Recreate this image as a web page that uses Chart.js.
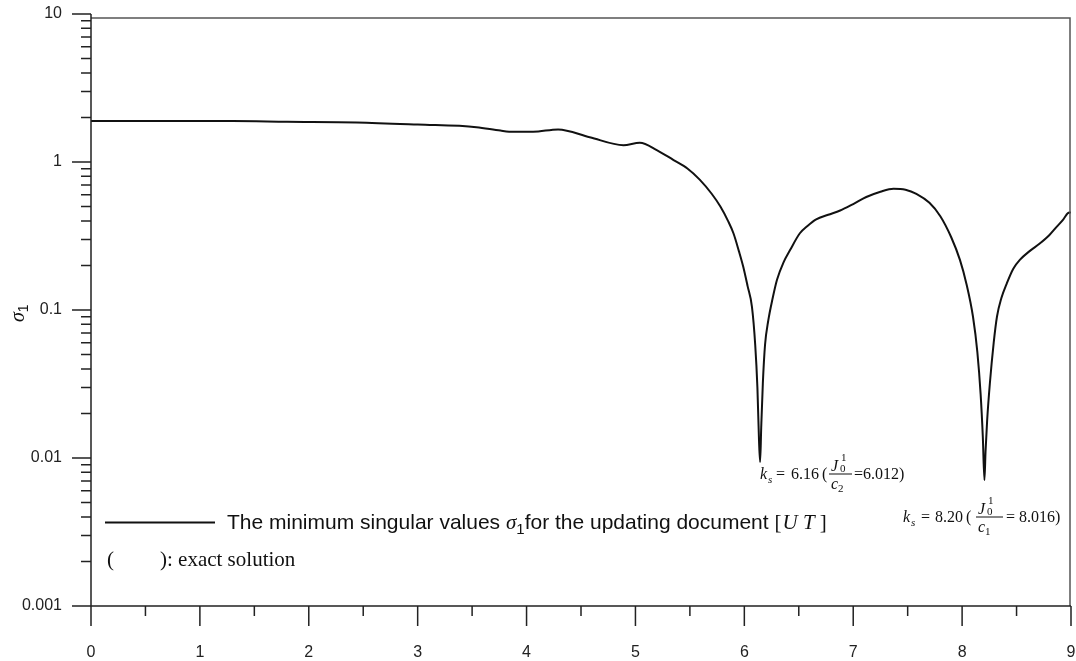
<!DOCTYPE html>
<html>
<head>
<meta charset="utf-8">
<script src="https://cdn.jsdelivr.net/npm/chart.js@4.4.1/dist/chart.umd.min.js"></script>
<style>
  html, body { margin: 0; padding: 0; background: #fff; }
  #wrap { width: 1076px; height: 661px; position: relative; }
</style>
</head>
<body>
<div id="wrap"><canvas id="c" width="1076" height="661"></canvas></div>
<script>
// ---- data ----
const X_VALUES = [0, 0.5, 1.0, 1.3, 1.8, 2.44, 3.0, 3.54, 3.76, 3.88,
  4.06, 4.29, 4.58, 4.89, 5.04, 5.2, 5.35, 5.48, 5.59, 5.70,
  5.78, 5.85, 5.90, 5.95, 5.99, 6.03, 6.07, 6.10, 6.12, 6.135,
  6.145, 6.155, 6.17, 6.19, 6.22, 6.26, 6.30, 6.36, 6.42, 6.51,
  6.58, 6.66, 6.77, 6.88, 7.00, 7.12, 7.25, 7.37, 7.48, 7.58,
  7.70, 7.80, 7.90, 7.98, 8.04, 8.10, 8.14, 8.17, 8.19, 8.205,
  8.215, 8.23, 8.255, 8.29, 8.32, 8.36, 8.41, 8.47, 8.53, 8.62,
  8.71, 8.80, 8.87, 8.93, 8.97, 9.0];
const SIGMA_VALUES = [1.89, 1.89, 1.89, 1.89, 1.87, 1.85, 1.79, 1.72, 1.63, 1.60,
  1.60, 1.66, 1.47, 1.30, 1.35, 1.20, 1.03, 0.90, 0.76, 0.61,
  0.50, 0.40, 0.33, 0.25, 0.196, 0.145, 0.105, 0.058, 0.03, 0.013,
  0.0094, 0.016, 0.032, 0.058, 0.085, 0.12, 0.16, 0.21, 0.254, 0.33,
  0.37, 0.41, 0.44, 0.47, 0.52, 0.58, 0.63, 0.66, 0.65, 0.61,
  0.53, 0.43, 0.31, 0.218, 0.15, 0.09, 0.052, 0.027, 0.014, 0.0071,
  0.011, 0.018, 0.032, 0.06, 0.09, 0.12, 0.151, 0.19, 0.218, 0.25,
  0.28, 0.32, 0.366, 0.41, 0.45, 0.457];
const X_TICK_LABELS = ['0', '1', '2', '3', '4', '5', '6', '7', '8', '9'];
const X_TICK_VALUES = [0, 1, 2, 3, 4, 5, 6, 7, 8, 9];
const X_MINOR_TICKS = [0.5, 1.5, 2.5, 3.5, 4.5, 5.5, 6.5, 7.5, 8.5];
const Y_TICK_VALUES = [0.001, 0.01, 0.1, 1, 10];
const Y_TICK_LABELS = ['0.001', '0.01', '0.1', '1', '10'];
const Y_MINOR_MULTIPLIERS = [2, 3, 4, 5, 6, 7, 8, 9];
const LEGEND_MAIN = 'The minimum singular values ';
const LEGEND_SIGMA = 'σ';
const LEGEND_SUB = '1';
const LEGEND_REST = 'for the updating document ';
const LEGEND_EXACT = '): exact solution';

const SANS = '"Liberation Sans", Arial, Helvetica, sans-serif';
const SERIF = '"Liberation Serif", "Times New Roman", Times, serif';
const INK = '#111';

function drawParts(ctx, x, y, parts) {
  let cx = x;
  for (const p of parts) {
    ctx.font = p.font;
    if (p.x !== undefined) cx = p.x;
    ctx.fillText(p.t, cx, y + (p.dy || 0));
    cx += ctx.measureText(p.t).width + (p.gap || 0);
  }
}

function drawFraction(ctx, left, barY, barW, sub) {
  ctx.fillRect(left, barY - 0.5, barW, 1);
  ctx.font = `italic 16px ${SERIF}`;
  ctx.fillText('J', left + 2, barY - 3);
  ctx.font = `11px ${SERIF}`;
  ctx.fillText('1', left + 12, barY - 13);
  ctx.fillText('0', left + 11, barY - 2);
  ctx.font = `italic 16px ${SERIF}`;
  ctx.fillText('c', left + 2, barY + 15);
  ctx.font = `11px ${SERIF}`;
  ctx.fillText(sub, left + 9, barY + 18);
}

const framePlugin = {
  id: 'framePlugin',
  afterDraw(chart) {
    const { ctx, chartArea: a, scales: { x, y } } = chart;
    ctx.save();
    // frame (top and right)
    ctx.strokeStyle = '#555';
    ctx.lineWidth = 1.5;
    ctx.beginPath();
    ctx.moveTo(a.left, a.top + 4);
    ctx.lineTo(a.right - 1, a.top + 4);
    ctx.lineTo(a.right - 1, a.bottom);
    ctx.stroke();
    // axes
    ctx.strokeStyle = '#222';
    ctx.lineWidth = 1.5;
    ctx.beginPath();
    ctx.moveTo(a.left, a.top);
    ctx.lineTo(a.left, a.bottom);
    ctx.moveTo(a.left, a.bottom);
    ctx.lineTo(a.right, a.bottom);
    ctx.stroke();
    // y ticks
    ctx.beginPath();
    Y_TICK_VALUES.forEach((d, i) => {
      const py = y.getPixelForValue(d);
      ctx.moveTo(a.left - 19, py); ctx.lineTo(a.left, py);
      if (i < Y_TICK_VALUES.length - 1) {
        Y_MINOR_MULTIPLIERS.forEach(m => {
          const pm = y.getPixelForValue(d * m);
          ctx.moveTo(a.left - 10, pm); ctx.lineTo(a.left, pm);
        });
      }
    });
    // x ticks
    X_TICK_VALUES.forEach(v => {
      const px = x.getPixelForValue(v);
      ctx.moveTo(px, a.bottom); ctx.lineTo(px, a.bottom + 20);
    });
    X_MINOR_TICKS.forEach(v => {
      const px = x.getPixelForValue(v);
      ctx.moveTo(px, a.bottom); ctx.lineTo(px, a.bottom + 10);
    });
    ctx.stroke();

    // y-axis title
    ctx.fillStyle = INK;
    ctx.textAlign = 'left';
    ctx.textBaseline = 'alphabetic';
    ctx.save();
    ctx.translate(24, 322);
    ctx.rotate(-Math.PI / 2);
    drawParts(ctx, 0, 0, [
      { t: 'σ', font: `italic 20px ${SERIF}` },
      { t: '1', font: `14px ${SANS}`, dy: 4 }
    ]);
    ctx.restore();

    // legend
    ctx.strokeStyle = INK;
    ctx.lineWidth = 2;
    ctx.beginPath();
    ctx.moveTo(105, 522.5); ctx.lineTo(215, 522.5);
    ctx.stroke();
    drawParts(ctx, 227, 529, [
      { t: LEGEND_MAIN, font: `21px ${SANS}` },
      { t: LEGEND_SIGMA, font: `italic 21px ${SERIF}` },
      { t: LEGEND_SUB, font: `15px ${SANS}`, dy: 5 },
      { t: LEGEND_REST, font: `21px ${SANS}` },
      { t: '[', font: `21px ${SERIF}`, gap: 1 },
      { t: 'U T', font: `italic 21px ${SERIF}` },
      { t: ' ]', font: `21px ${SERIF}` }
    ]);
    ctx.font = `21px ${SERIF}`;
    ctx.fillText('(', 107, 566);
    ctx.fillText(LEGEND_EXACT, 160, 566);

    // annotation 1
    drawParts(ctx, 760, 479, [
      { t: 'k', font: `italic 16px ${SERIF}`, x: 760 },
      { t: 's', font: `italic 11px ${SERIF}`, dy: 4, x: 768 },
      { t: '=', font: `16px ${SERIF}`, x: 776 },
      { t: '6.16', font: `16px ${SERIF}`, x: 791 },
      { t: '(', font: `16px ${SERIF}`, x: 822 }
    ]);
    drawFraction(ctx, 829, 474, 23, '2');
    drawParts(ctx, 854, 479, [{ t: '=6.012)', font: `16px ${SERIF}` }]);

    // annotation 2
    drawParts(ctx, 902, 522, [
      { t: 'k', font: `italic 16px ${SERIF}`, x: 903 },
      { t: 's', font: `italic 11px ${SERIF}`, dy: 4, x: 911 },
      { t: '=', font: `16px ${SERIF}`, x: 921 },
      { t: '8.20', font: `16px ${SERIF}`, x: 935 },
      { t: '(', font: `16px ${SERIF}`, x: 966 }
    ]);
    drawFraction(ctx, 976, 517, 27, '1');
    drawParts(ctx, 1006, 522, [{ t: '= 8.016)', font: `16px ${SERIF}` }]);
    ctx.restore();
  }
};

const points = X_VALUES.map((xv, i) => ({ x: xv, y: SIGMA_VALUES[i] }));

new Chart(document.getElementById('c'), {
  type: 'line',
  data: {
    datasets: [{
      label: 'σ1',
      data: points,
      borderColor: INK,
      borderWidth: 2,
      pointRadius: 0,
      cubicInterpolationMode: 'monotone',
      fill: false
    }]
  },
  options: {
    responsive: false,
    animation: false,
    devicePixelRatio: 1,
    layout: { padding: { top: 14, right: 5, left: 0, bottom: 0 } },
    plugins: { legend: { display: false }, tooltip: { enabled: false } },
    scales: {
      x: {
        type: 'linear', min: 0, max: 9,
        grid: { display: false, drawTicks: true, tickLength: 37 },
        border: { display: false },
        afterBuildTicks: s => { s.ticks = X_TICK_VALUES.map(v => ({ value: v })); },
        ticks: {
          callback: (v, i) => X_TICK_LABELS[i],
          padding: 0, autoSkip: false, maxRotation: 0,
          color: '#222',
          font: { family: SANS, size: 16 }
        },
        afterFit: s => { s.height = 55; }
      },
      y: {
        type: 'logarithmic', min: 0.001, max: 10,
        grid: { display: false, drawTicks: true, tickLength: 29 },
        border: { display: false },
        afterBuildTicks: s => { s.ticks = Y_TICK_VALUES.map(v => ({ value: v })); },
        ticks: {
          callback: (v, i) => Y_TICK_LABELS[i],
          padding: 0, autoSkip: false,
          color: '#222',
          font: { family: SANS, size: 16 }
        },
        afterFit: s => { s.width = 91; }
      }
    }
  },
  plugins: [framePlugin]
});
</script>
</body>
</html>
